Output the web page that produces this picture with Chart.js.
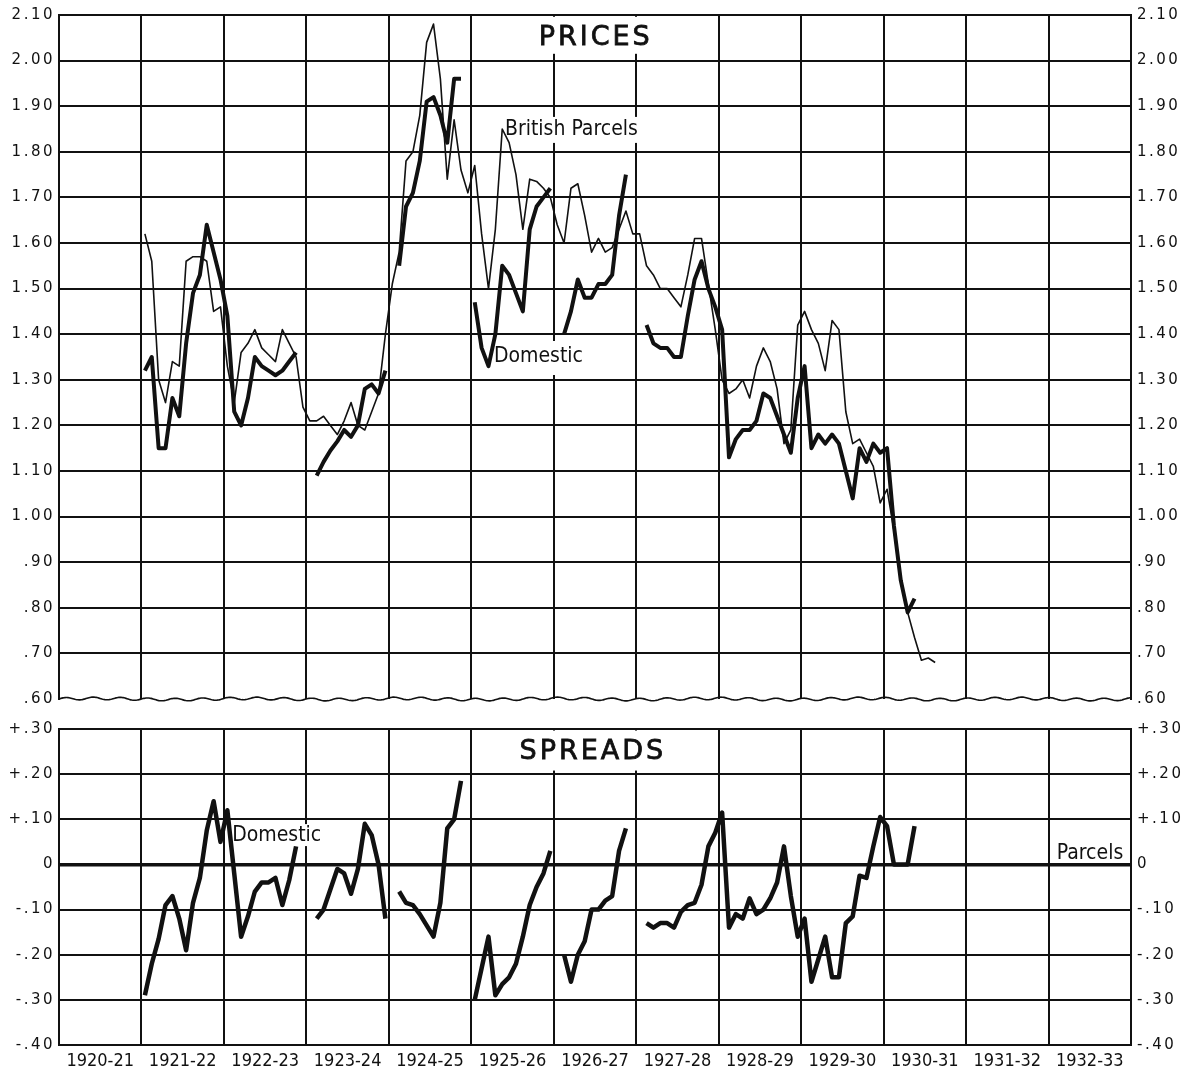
<!DOCTYPE html>
<html>
<head>
<meta charset="utf-8">
<title>Prices and Spreads, 1920-21 to 1932-33</title>
<script src="https://cdn.jsdelivr.net/npm/chart.js@4.4.1/dist/chart.umd.min.js"></script>
<style>
  html, body { margin: 0; padding: 0; background: #fff; }
  #wrap { position: relative; width: 1201px; height: 1072px; background: #fff; overflow: hidden; }
  canvas { position: absolute; left: 0; }
  #prices { top: 0; }
  #spreads { top: 714px; }
</style>
</head>
<body>
<div id="wrap">
  <canvas id="prices" width="1201" height="714"></canvas>
  <canvas id="spreads" width="1201" height="358"></canvas>
</div>
<script>
// Crop years (August-July); the x axis counts months from August 1920.
const cropYears = ['1920-21', '1921-22', '1922-23', '1923-24', '1924-25', '1925-26',
                   '1926-27', '1927-28', '1928-29', '1929-30', '1930-31', '1931-32', '1932-33'];
const firstMonth = 12; // every series begins in August 1921

// Monthly prices, one row per crop year (null = no quotation).
const britishParcels = [
  1.62, 1.56, 1.30, 1.25, 1.34, 1.33, 1.56, 1.57, 1.57, 1.56, 1.45, 1.46,
  1.33, 1.25, 1.36, 1.38, 1.41, 1.37, 1.355, 1.34, 1.41, 1.38, 1.35, 1.24,
  1.21, 1.21, 1.22, 1.20, 1.18, 1.21, 1.25, 1.20, 1.19, 1.23, 1.27, 1.40,
  1.51, 1.58, 1.78, 1.80, 1.88, 2.04, 2.08, 1.96, 1.74, 1.87, 1.76, 1.71,
  1.77, 1.62, 1.50, 1.63, 1.85, 1.82, 1.75, 1.63, 1.74, 1.735, 1.72, 1.70,
  1.64, 1.60, 1.72, 1.73, 1.66, 1.58, 1.61, 1.58, 1.59, 1.63, 1.67, 1.62,
  1.62, 1.55, 1.53, 1.50, 1.50, 1.48, 1.46, 1.53, 1.61, 1.61, 1.51, 1.41,
  1.30, 1.27, 1.28, 1.30, 1.26, 1.33, 1.37, 1.34, 1.28, 1.16, 1.19, 1.42,
  1.45, 1.41, 1.38, 1.32, 1.43, 1.41, 1.23, 1.16, 1.17, 1.14, 1.11, 1.03,
  1.06, 0.97, 0.86, 0.79, 0.735, 0.685, 0.69, 0.68
];
const domestic = [
  1.32, 1.35, 1.15, 1.15, 1.26, 1.22, 1.38, 1.49, 1.53, 1.64, 1.58, 1.52,
  1.44, 1.23, 1.20, 1.26, 1.35, 1.33, 1.32, 1.31, 1.32, 1.34, 1.36, null,
  null, 1.09, 1.12, 1.145, 1.165, 1.19, 1.175, 1.20, 1.28, 1.29, 1.27, 1.32,
  null, 1.55, 1.68, 1.71, 1.78, 1.91, 1.92, 1.88, 1.82, 1.96, 1.96, null,
  1.47, 1.37, 1.33, 1.40, 1.55, 1.53, 1.49, 1.45, 1.63, 1.68, 1.70, 1.72,
  null, 1.40, 1.45, 1.52, 1.48, 1.48, 1.51, 1.51, 1.53, 1.66, 1.75, null,
  null, 1.42, 1.38, 1.37, 1.37, 1.35, 1.35, 1.44, 1.52, 1.56, 1.50, 1.46,
  1.41, 1.13, 1.17, 1.19, 1.19, 1.21, 1.27, 1.26, 1.22, 1.18, 1.14, 1.26,
  1.33, 1.15, 1.18, 1.16, 1.18, 1.16, 1.10, 1.04, 1.15, 1.12, 1.16, 1.14,
  1.15, 0.98, 0.86, 0.79, 0.82
];
// Spread of domestic over British parcels.
const spreads = [
  -0.29, -0.22, -0.165, -0.09, -0.07, -0.12, -0.19, -0.085, -0.03, 0.075, 0.14, 0.05,
  0.12, -0.02, -0.16, -0.115, -0.06, -0.04, -0.04, -0.03, -0.09, -0.035, 0.04, null,
  null, -0.12, -0.10, -0.055, -0.01, -0.02, -0.065, -0.01, 0.09, 0.065, 0.00, -0.12,
  null, -0.06, -0.085, -0.09, -0.11, -0.135, -0.16, -0.085, 0.08, 0.10, 0.185, null,
  -0.30, -0.23, -0.16, -0.29, -0.265, -0.25, -0.22, -0.16, -0.09, -0.05, -0.02, 0.03,
  null, -0.20, -0.26, -0.20, -0.17, -0.10, -0.10, -0.08, -0.07, 0.03, 0.08, null,
  null, -0.13, -0.14, -0.13, -0.13, -0.14, -0.105, -0.09, -0.085, -0.045, 0.04, 0.07,
  0.115, -0.14, -0.11, -0.12, -0.075, -0.11, -0.10, -0.075, -0.04, 0.04, -0.07, -0.16,
  -0.12, -0.26, -0.21, -0.16, -0.25, -0.25, -0.13, -0.115, -0.025, -0.03, 0.04, 0.105,
  0.085, 0.0, 0.0, 0.0, 0.085
];

const priceTicks = [0.6, 0.7, 0.8, 0.9, 1.0, 1.1, 1.2, 1.3, 1.4, 1.5, 1.6, 1.7, 1.8, 1.9, 2.0, 2.1];
const spreadTicks = [-0.4, -0.3, -0.2, -0.1, 0, 0.1, 0.2, 0.3];

const INK = '#111';
const MONTHS = cropYears.length * 12;
const yearEdges = [];
for (let m = 0; m <= MONTHS; m += 12) yearEdges.push(m);
const halfYears = [];
for (let m = 0; m <= MONTHS; m += 6) halfYears.push(m);

const toPoints = values => values.map((v, i) => ({ x: firstMonth + i + 0.5, y: v }));
const priceLabel = v => { const s = v.toFixed(2); return v < 1 ? s.slice(1) : s; };
const spreadLabel = v => {
  if (Math.abs(v) < 1e-9) return '0';
  return (v > 0 ? '+' : '-') + Math.abs(v).toFixed(2).slice(1);
};
const near = (a, b) => Math.abs(a - b) < 1e-9;

const tickFont = { family: '"DejaVu Sans", sans-serif', size: 15 };
const labelFont = '21px "Liberation Sans Narrow", "DejaVu Sans Condensed", sans-serif';
const titleFont = '27px "DejaVu Sans", sans-serif';

// Wider letter spacing for the value labels on both vertical axes.
const spacedTicks = {
  id: 'spacedTicks',
  beforeDraw(chart) {
    Object.values(chart.scales).forEach(s => {
      if (s.axis !== 'y' || s._spacedLabels) return;
      const base = s.drawLabels.bind(s);
      s.drawLabels = area => {
        const ctx = s.ctx;
        ctx.save();
        ctx.letterSpacing = '2.5px';
        base(area);
        ctx.restore();
      };
      s._spacedLabels = true;
    });
  }
};

// Titles, series names and the torn bottom edge of the price panel.
const annotate = {
  id: 'annotate',
  beforeDatasetsDraw(chart, args, opts) {
    const { ctx, chartArea, scales } = chart;
    ctx.save();
    if (opts.wave) {
      ctx.beginPath();
      for (let px = chartArea.left; px <= chartArea.right; px += 1) {
        const t = px - chartArea.left;
        const yy = chartArea.bottom - 1.3 * Math.sin(t * 0.23) - 0.6 * Math.sin(t * 0.041);
        if (px === chartArea.left) ctx.moveTo(px, yy); else ctx.lineTo(px, yy);
      }
      ctx.strokeStyle = INK;
      ctx.lineWidth = 1.6;
      ctx.stroke();
    }
    (opts.labels || []).forEach(l => {
      ctx.save();
      ctx.font = l.font;
      ctx.letterSpacing = (l.spacing || 0) + 'px';
      const w = ctx.measureText(l.text).width;
      const cx = scales.x.getPixelForValue(l.x);
      const cy = scales.y.getPixelForValue(l.y);
      const left = l.align === 'center' ? cx - w / 2 : cx;
      ctx.fillStyle = '#fff';
      ctx.fillRect(left - l.padX, cy - l.up, w + 2 * l.padX, l.up + l.down);
      ctx.fillStyle = INK;
      ctx.textAlign = 'left';
      ctx.textBaseline = 'middle';
      ctx.fillText(l.text, left, cy);
      if (l.heavy) {
        ctx.strokeStyle = INK;
        ctx.lineWidth = l.heavy;
        ctx.strokeText(l.text, left, cy);
      }
      ctx.restore();
    });
    ctx.restore();
  }
};

function yAxes(ticks, min, max, fmt, gridColor, gridWidth) {
  const common = {
    type: 'linear', min, max,
    afterBuildTicks: s => { s.ticks = ticks.map(v => ({ value: v })); },
    border: { display: true, color: INK, width: 2 }
  };
  return {
    y: Object.assign({}, common, {
      position: 'left',
      grid: { color: gridColor, lineWidth: gridWidth, drawTicks: false },
      ticks: { color: INK, font: tickFont, padding: 4, callback: fmt },
      afterFit: s => { s.width = 59; }
    }),
    y2: Object.assign({}, common, {
      position: 'right',
      grid: { display: false, drawTicks: false },
      ticks: { color: INK, font: tickFont, padding: 6, callback: fmt },
      afterFit: s => { s.width = 70; }
    })
  };
}

const lineDefaults = { pointRadius: 0, borderColor: INK, tension: 0, spanGaps: false,
                       borderJoinStyle: 'round', borderCapStyle: 'butt' };

new Chart(document.getElementById('prices'), {
  type: 'line',
  data: {
    datasets: [
      Object.assign({ label: 'British Parcels', data: toPoints(britishParcels), borderWidth: 1.6 }, lineDefaults),
      Object.assign({ label: 'Domestic', data: toPoints(domestic), borderWidth: 4 }, lineDefaults)
    ]
  },
  options: {
    responsive: false, animation: false, events: [],
    layout: { padding: { top: 14, bottom: 0, left: 0, right: 0 } },
    plugins: {
      legend: { display: false }, tooltip: { enabled: false },
      annotate: {
        wave: true,
        labels: [
          { text: 'PRICES', font: titleFont, spacing: 3, heavy: 0.8, x: 78.1, y: 2.05, align: 'center', padX: 12, up: 21, down: 16 },
          { text: 'British Parcels', font: labelFont, x: 64.9, y: 1.848, align: 'left', padX: 3, up: 13, down: 13 },
          { text: 'Domestic', font: labelFont, x: 63.3, y: 1.35, align: 'left', padX: 3, up: 16, down: 18 }
        ]
      }
    },
    scales: Object.assign({
      x: {
        type: 'linear', min: 0, max: MONTHS,
        afterBuildTicks: s => { s.ticks = yearEdges.map(v => ({ value: v })); },
        grid: { color: INK, lineWidth: 2, drawTicks: false },
        border: { display: false },
        ticks: { display: false },
        afterFit: s => { s.height = 10; }
      }
    }, yAxes(priceTicks, 0.6, 2.1, priceLabel,
             c => (c.tick && near(c.tick.value, 0.6)) ? 'rgba(0,0,0,0)' : INK, 2))
  },
  plugins: [annotate, spacedTicks]
});

new Chart(document.getElementById('spreads'), {
  type: 'line',
  data: {
    datasets: [
      Object.assign({ label: 'Spread', data: toPoints(spreads), borderWidth: 4.5 }, lineDefaults)
    ]
  },
  options: {
    responsive: false, animation: false, events: [],
    layout: { padding: { top: 9, bottom: 0, left: 0, right: 0 } },
    plugins: {
      legend: { display: false }, tooltip: { enabled: false },
      annotate: {
        labels: [
          { text: 'SPREADS', font: titleFont, spacing: 3, heavy: 0.8, x: 77.7, y: 0.25, align: 'center', padX: 12, up: 21, down: 19 },
          { text: 'Domestic', font: labelFont, x: 25.2, y: 0.065, align: 'left', padX: 2, up: 11, down: 11 },
          { text: 'Parcels', font: labelFont, x: 145.2, y: 0.024, align: 'left', padX: 2, up: 11, down: 6 }
        ]
      }
    },
    scales: Object.assign({
      x: {
        type: 'linear', min: 0, max: MONTHS,
        afterBuildTicks: s => { s.ticks = halfYears.map(v => ({ value: v })); },
        grid: {
          color: c => (c.tick && c.tick.value % 12 === 0) ? INK : 'rgba(0,0,0,0)',
          lineWidth: 2, drawTicks: false
        },
        border: { display: false },
        ticks: {
          color: INK, autoSkip: false, maxRotation: 0, minRotation: 0, padding: 6,
          font: { family: '"DejaVu Sans Condensed", "DejaVu Sans", sans-serif', size: 18 },
          callback: v => (v % 12 === 6) ? cropYears[(v - 6) / 12] : ''
        },
        afterFit: s => { s.height = 27; }
      }
    }, yAxes(spreadTicks, -0.4, 0.3, spreadLabel, INK,
             c => (c.tick && near(c.tick.value, 0)) ? 3.5 : 2))
  },
  plugins: [annotate, spacedTicks]
});
</script>
</body>
</html>
